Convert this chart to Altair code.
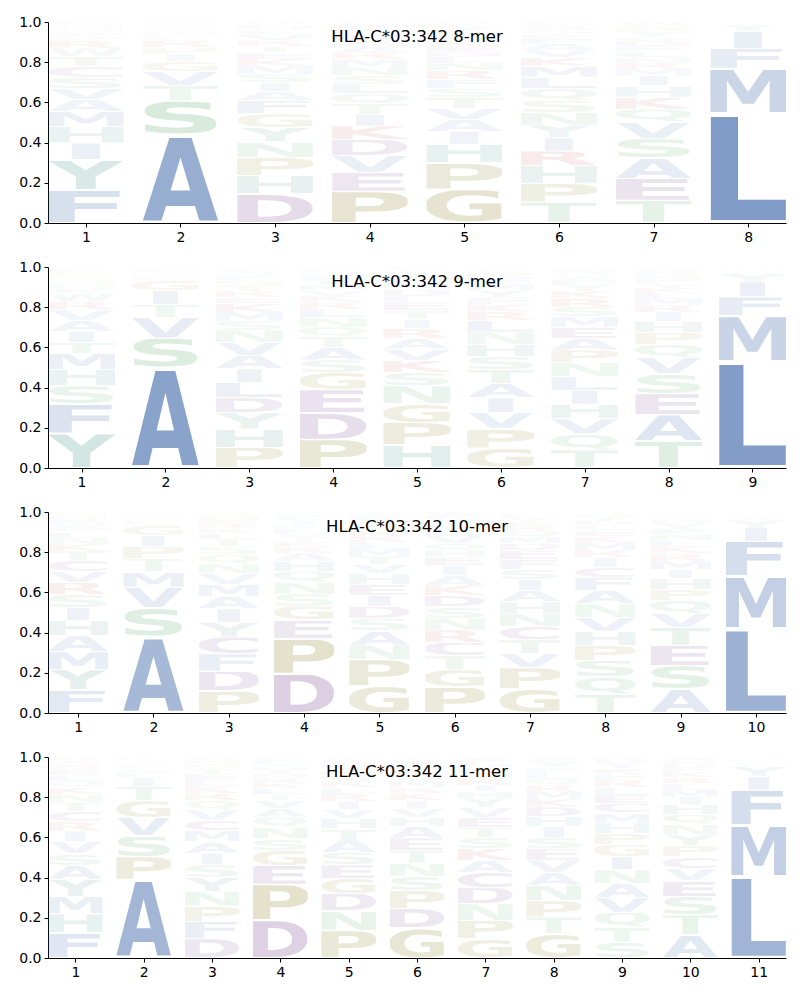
import altair as alt
import pandas as pd
from urllib.parse import quote

# ---------------- data (probabilities in %) ----------------
AA = list("ACDEFGHIKLMNPQRSTVWY")

#            A     C     D     E     F     G     H     I     K     L     M     N     P     Q     R     S     T     V     W     Y
MER8 = [
    [5.8, 5.5, 1.0, 1.2, 16.5, 1.0, 8.2, 8.3, 1.5, 1.3, 7.5, 1.2, 1.0, 1.2, 3.5, 5.6, 5.0, 5.7, 4.0, 15.0],
    [44.0, 0.3, 0.8, 0.8, 1.0, 5.0, 0.5, 3.5, 1.0, 1.2, 1.0, 0.7, 3.4, 0.7, 3.3, 17.0, 7.5, 7.0, 0.3, 1.0],
    [4.5, 1.0, 14.0, 3.0, 6.3, 6.5, 8.8, 4.2, 3.5, 2.0, 3.9, 7.5, 8.7, 2.0, 2.9, 4.0, 3.0, 2.8, 1.0, 7.0],
    [2.9, 1.5, 7.5, 9.0, 2.5, 2.8, 2.0, 5.5, 6.5, 4.5, 3.5, 4.0, 15.0, 4.8, 3.0, 4.2, 5.0, 8.0, 1.0, 2.0],
    [5.6, 1.5, 2.5, 2.5, 4.3, 16.0, 9.0, 6.0, 2.5, 3.0, 2.0, 3.5, 12.5, 2.5, 4.2, 4.5, 5.0, 5.4, 1.0, 2.0],
    [3.0, 1.0, 1.5, 2.0, 2.5, 2.0, 8.5, 6.3, 4.0, 5.5, 5.4, 6.0, 9.0, 5.6, 7.0, 5.8, 10.0, 3.5, 1.5, 6.2],
    [10.2, 1.6, 2.5, 11.0, 2.6, 2.4, 5.8, 5.0, 6.0, 2.9, 3.5, 3.0, 2.0, 6.6, 3.1, 10.0, 11.5, 8.3, 1.5, 2.1],
    [0.2, 0.1, 0.05, 0.05, 10.0, 0.05, 0.1, 8.5, 0.05, 54.5, 22.5, 0.05, 0.05, 0.1, 0.05, 0.1, 0.1, 0.3, 0.2, 3.0],
]
MER9 = [
    [5.3, 1.0, 1.2, 2.0, 14.5, 1.6, 8.0, 5.5, 1.0, 0.9, 7.8, 2.0, 1.5, 1.8, 4.1, 9.0, 5.6, 5.2, 3.9, 17.0],
    [49.0, 0.15, 0.2, 0.3, 0.6, 5.0, 0.15, 6.5, 0.4, 1.2, 0.8, 0.1, 1.0, 0.1, 1.1, 14.5, 6.6, 10.0, 0.05, 0.5],
    [6.5, 1.5, 7.5, 3.1, 2.0, 2.5, 9.0, 6.6, 4.0, 7.3, 4.4, 6.0, 10.0, 1.9, 3.0, 4.5, 2.9, 6.4, 1.0, 8.0],
    [5.9, 1.1, 12.5, 11.0, 2.0, 8.0, 1.5, 2.1, 3.0, 4.0, 2.5, 4.5, 13.5, 4.6, 3.1, 6.0, 5.0, 2.6, 1.0, 0.9],
    [5.0, 1.1, 3.0, 3.5, 2.0, 8.5, 10.5, 4.1, 5.5, 3.1, 2.5, 8.3, 10.3, 2.2, 4.5, 6.0, 4.0, 5.2, 1.0, 1.5],
    [6.6, 1.0, 2.0, 2.1, 3.2, 9.2, 5.8, 6.8, 3.5, 5.4, 2.9, 5.6, 9.0, 1.9, 4.0, 6.0, 6.4, 7.5, 1.0, 3.1],
    [5.6, 1.0, 1.5, 5.5, 2.5, 1.6, 7.0, 6.7, 3.5, 6.6, 5.0, 6.5, 6.0, 7.6, 4.0, 4.5, 8.7, 7.2, 2.0, 3.0],
    [13.0, 1.0, 1.5, 10.5, 2.0, 1.4, 5.5, 4.5, 2.5, 3.0, 3.1, 1.9, 6.0, 6.5, 3.5, 10.0, 13.5, 8.0, 0.5, 2.1],
    [0.5, 0.25, 0.05, 0.05, 9.5, 0.05, 0.2, 7.5, 0.1, 53.0, 22.5, 0.08, 0.05, 0.16, 0.1, 0.18, 0.3, 0.8, 0.45, 4.0],
]
MER10 = [
    [8.0, 5.5, 1.5, 1.6, 11.5, 1.4, 7.6, 6.6, 3.5, 3.0, 9.0, 3.1, 1.0, 2.5, 6.0, 6.5, 4.5, 5.7, 2.0, 10.2],
    [37.0, 0.25, 0.4, 0.6, 1.0, 4.5, 0.3, 5.5, 0.3, 1.2, 7.5, 0.35, 6.0, 0.55, 0.75, 14.0, 6.3, 10.0, 0.2, 0.8],
    [6.2, 8.4, 10.0, 2.0, 8.6, 1.5, 1.6, 6.6, 2.5, 3.0, 6.0, 5.0, 11.0, 4.5, 2.1, 4.0, 3.5, 5.5, 1.0, 7.5],
    [4.0, 1.1, 19.5, 9.2, 1.4, 7.0, 5.0, 1.6, 2.5, 2.0, 1.9, 5.8, 17.5, 5.5, 3.0, 6.0, 2.4, 2.1, 1.0, 1.5],
    [6.8, 1.5, 5.8, 5.3, 2.0, 13.0, 5.0, 5.5, 2.6, 3.1, 3.5, 7.0, 12.8, 2.5, 3.0, 6.0, 4.0, 4.5, 1.0, 2.1],
    [4.9, 6.6, 5.5, 4.0, 2.0, 8.5, 3.6, 4.5, 5.0, 3.0, 2.6, 5.8, 12.5, 3.5, 6.0, 5.6, 6.8, 3.4, 1.5, 2.5],
    [5.6, 6.6, 3.5, 4.5, 4.8, 12.0, 6.0, 5.5, 2.1, 1.9, 3.1, 6.2, 10.5, 3.0, 2.5, 5.0, 6.8, 7.0, 1.0, 2.0],
    [6.4, 5.0, 2.0, 2.9, 6.2, 1.5, 6.8, 4.5, 3.0, 2.5, 3.5, 6.5, 7.2, 8.2, 3.6, 8.0, 9.0, 6.6, 1.0, 1.9],
    [11.2, 1.1, 2.0, 9.5, 2.5, 1.5, 5.0, 4.2, 3.1, 3.0, 4.0, 2.9, 5.2, 6.0, 3.5, 11.0, 8.5, 6.5, 1.0, 2.4],
    [0.6, 0.3, 0.05, 0.05, 17.5, 0.05, 0.28, 6.5, 0.1, 42.0, 26.0, 0.08, 0.05, 0.18, 0.1, 0.2, 0.4, 1.0, 0.5, 4.0],
]
MER11 = [
    [7.0, 4.8, 2.1, 2.5, 12.5, 2.0, 9.5, 5.2, 3.5, 3.0, 8.8, 4.0, 1.5, 3.1, 5.0, 6.0, 4.5, 5.8, 1.0, 8.6],
    [38.0, 0.2, 0.5, 0.8, 1.0, 8.0, 0.3, 4.0, 0.4, 2.0, 1.5, 0.6, 11.0, 0.7, 0.9, 10.0, 7.0, 9.0, 0.15, 1.1],
    [5.6, 5.2, 9.5, 3.0, 8.5, 2.0, 1.9, 5.8, 3.5, 3.1, 5.5, 7.2, 7.6, 4.5, 3.6, 6.0, 2.9, 5.0, 1.5, 7.0],
    [4.2, 1.1, 19.0, 9.5, 1.4, 7.5, 1.6, 2.0, 2.6, 3.0, 2.1, 5.8, 18.0, 5.0, 2.5, 6.0, 3.1, 4.0, 1.0, 1.5],
    [6.0, 1.5, 8.5, 6.5, 2.0, 7.5, 5.0, 4.0, 3.0, 3.1, 2.5, 9.5, 13.5, 2.9, 3.5, 6.2, 5.5, 4.5, 1.0, 2.1],
    [5.8, 1.5, 9.5, 6.0, 2.1, 15.0, 4.5, 4.0, 3.5, 2.5, 3.0, 6.6, 9.0, 2.9, 3.1, 6.8, 6.4, 4.2, 1.0, 2.0],
    [6.0, 7.6, 8.0, 5.0, 2.0, 9.5, 3.5, 3.1, 5.8, 2.5, 2.4, 8.2, 9.2, 2.6, 3.0, 5.5, 5.2, 4.8, 1.5, 4.5],
    [6.0, 1.5, 4.5, 5.5, 2.5, 11.5, 4.8, 5.0, 3.6, 2.9, 3.5, 7.4, 7.6, 3.0, 3.1, 5.2, 7.8, 5.8, 1.0, 2.4],
    [6.8, 4.5, 2.0, 4.0, 3.0, 5.8, 5.0, 6.3, 2.6, 3.6, 4.8, 6.5, 5.3, 7.0, 3.5, 7.6, 7.3, 6.9, 1.0, 2.5],
    [11.5, 5.8, 2.0, 7.8, 2.5, 1.6, 4.8, 4.0, 2.6, 3.1, 3.5, 5.2, 5.5, 5.0, 3.0, 9.2, 10.0, 6.2, 1.5, 5.4],
    [0.7, 0.3, 0.05, 0.05, 17.5, 0.05, 0.28, 7.0, 0.1, 40.5, 25.5, 0.08, 0.05, 0.2, 0.1, 0.26, 0.4, 1.2, 0.6, 5.0],
]

ALLELE = "HLA-C*03:342"
PANELS = [MER8, MER9, MER10, MER11]

# ---------------- glyph styling ----------------
COLOR = {
    "blue": "#4c72b0", "teal": "#459284", "green": "#55a868",
    "purple": "#7a4590", "red": "#c83c3c", "olive": "#8e852a",
}
GROUP = {
    "A": "blue", "V": "blue", "L": "blue", "I": "blue", "M": "blue", "F": "blue",
    "Y": "teal", "H": "teal", "W": "teal",
    "S": "green", "T": "green", "N": "green", "Q": "green",
    "D": "purple", "E": "purple", "C": "purple",
    "K": "red", "R": "red",
    "P": "olive", "G": "olive",
}
# ink extent of each DejaVu Sans Bold glyph, in % of its (stretched) advance
INK_X = {
    "A": (0.5, 99.5), "C": (7, 93), "D": (11, 94), "E": (13, 92), "F": (13, 92),
    "G": (7, 92), "H": (11, 89), "I": (25, 75), "K": (12, 100), "L": (14, 96),
    "M": (9.5, 90.5), "N": (11, 89), "P": (13, 93), "Q": (6, 94), "R": (12, 99),
    "S": (8, 92), "T": (1, 99), "V": (0.5, 99.5), "W": (1, 99), "Y": (0, 100),
}
ROUND = set("CGOS")


def glyph_url(letter):
    x0, x1 = INK_X[letter]
    if letter == "Q":
        top, bot = 74.4, 17.0
    elif letter in ROUND:
        top, bot = 74.4, 1.5
    else:
        top, bot = 72.9, 0.0
    svg = (
        '<svg xmlns="http://www.w3.org/2000/svg" '
        f'viewBox="{x0} {-top} {x1 - x0} {top + bot}" preserveAspectRatio="none">'
        '<text x="0" y="0" font-family="DejaVu Sans" font-weight="bold" '
        'font-size="100" textLength="100" lengthAdjust="spacingAndGlyphs" '
        f'fill="{COLOR[GROUP[letter]]}">{letter}</text></svg>'
    )
    return "data:image/svg+xml;charset=utf-8," + quote(svg)


URLS = {a: glyph_url(a) for a in AA}

FONT = "DejaVu Sans"


def panel(matrix):
    n = len(matrix)
    rows = []
    for i, vals in enumerate(matrix):
        for aa, v in zip(AA, vals):
            rows.append({"pos": i + 1, "aa": aa, "p": v, "url": URLS[aa]})
    df = pd.DataFrame(rows)
    return (
        alt.Chart(df)
        .transform_joinaggregate(total="sum(p)", groupby=["pos"])
        .transform_calculate(pn="datum.p / datum.total")
        .transform_window(
            cum="sum(pn)",
            groupby=["pos"],
            sort=[alt.SortField("pn", order="descending")],
            frame=[None, 0],
            ignorePeers=True,
        )
        .transform_calculate(hw="datum.aa == 'I' ? 0.15 : 0.4")
        .transform_calculate(
            x0="datum.pos - datum.hw",
            x1="datum.pos + datum.hw",
            y0="datum.cum - datum.pn + 0.028 * datum.pn",
            y1="datum.cum - 0.028 * datum.pn",
        )
        .mark_image(aspect=False)
        .encode(
            x=alt.X(
                "x0:Q",
                scale=alt.Scale(domain=[0.6, n + 0.4], nice=False, zero=False),
                axis=alt.Axis(values=list(range(1, n + 1)), format="d", title=None),
            ),
            x2="x1:Q",
            y=alt.Y(
                "y0:Q",
                scale=alt.Scale(domain=[0, 1], nice=False),
                axis=alt.Axis(values=[0, 0.2, 0.4, 0.6, 0.8, 1.0], format=".1f", title=None),
            ),
            y2="y1:Q",
            url="url:N",
            opacity=alt.Opacity(
                "pn:Q", scale=alt.Scale(domain=[0, 0.77], range=[0, 1], clamp=True), legend=None
            ),
        )
        .properties(
            width=738,
            height=201,
            title=alt.TitleParams(
                text=f"{ALLELE} {n}-mer",
                fontSize=16.5,
                fontWeight="normal",
                font=FONT,
                color="black",
                anchor="middle",
                frame="group",
                offset=-30,
            ),
        )
    )


chart = (
    alt.vconcat(*[panel(m) for m in PANELS], spacing=16)
    .properties(padding={"left": 10, "top": 7, "right": 5, "bottom": 5})
    .configure_view(stroke=None)
    .configure_axis(
        labelFont=FONT,
        labelFontSize=14,
        labelColor="black",
        tickColor="black",
        domainColor="black",
        tickSize=4,
        tickWidth=1,
        domainWidth=1,
        labelPadding=3,
        grid=False,
    )
)

chart.save("out.html", embed_options={"renderer": "svg", "actions": False})
